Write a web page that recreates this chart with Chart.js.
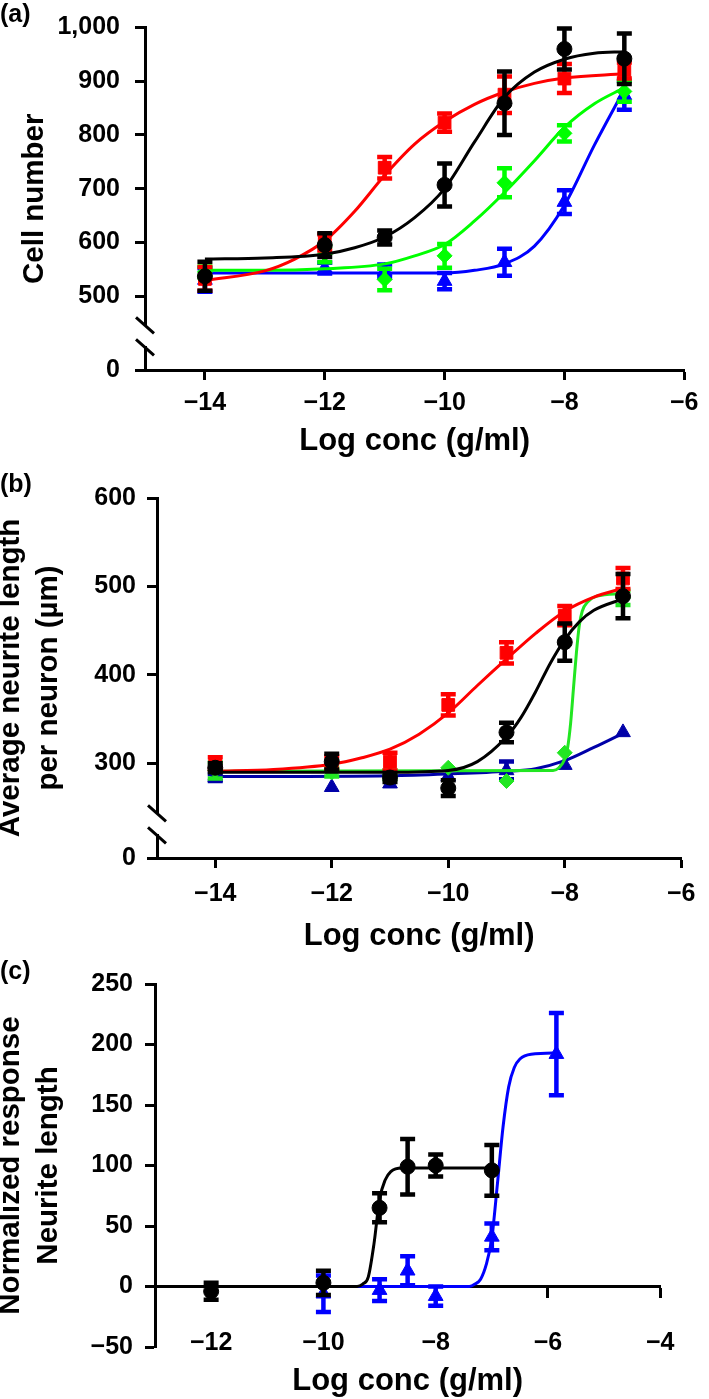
<!DOCTYPE html>
<html>
<head>
<meta charset="utf-8">
<title>Dose response: cell number and neurite length</title>
<script src="https://cdn.jsdelivr.net/npm/chart.js@4.4.1/dist/chart.umd.min.js"></script>
<style>
  body { margin: 0; background: #fff; }
  #wrap { position: relative; width: 709px; height: 1399px; }
  canvas { position: absolute; left: 0; }
  .panel { position: absolute; left: 0; font: bold 25px 'Liberation Sans', Arial, sans-serif; line-height: 1; color: #000; }
</style>
</head>
<body>
<div id="wrap">
  <canvas id="chartA" width="709" height="460" style="top:0"></canvas>
  <canvas id="chartB" width="709" height="500" style="top:460px"></canvas>
  <canvas id="chartC" width="709" height="449" style="top:950px"></canvas>
  <div class="panel" style="top:1px">(a)</div>
  <div class="panel" style="top:471px">(b)</div>
  <div class="panel" style="top:958px">(c)</div>
</div>
<script>
// ---- (a) cell number ----
const concA = [-14, -12, -11, -10, -9, -8, -7];
const cellBlack = [537, 595, 609, 707, 859, 960, 942];
const cellBlackErr = [27, 22, 13, 40, 59, 38, 47];
const cellRed = [532, 600, 739, 823, 875, 905, 920];
const cellRedErr = [22, 15, 20, 17, 34, 27, 15];
const cellGreen = [545, 578, 531, 575, 711, 803, 881];
const cellGreenErr = [10, 15, 20, 22, 27, 15, 19];
const cellBlue = [530, 552, 547, 528, 563, 675, 874];
const cellBlueErr = [22, 10, 12, 15, 25, 22, 27];

// fitted curves
const fitBlackAx = [-14, -13, -12, -11.5, -11, -10.5, -10, -9.5, -9, -8.5, -8, -7.5, -7];
const fitBlackAy = [569, 571, 578, 590, 610, 646, 700, 787, 870, 917, 941, 952, 955];
const fitRedAx = [-14, -13, -12.5, -12, -11.5, -11, -10.5, -10, -9.5, -9, -8.5, -8, -7];
const fitRedAy = [529, 547, 569, 603, 658, 725, 783, 825, 857, 880, 896, 906, 914];
const fitGreenAx = [-14, -13, -12, -11, -10.5, -10, -9.5, -9, -8.5, -8, -7.5, -7];
const fitGreenAy = [548, 548, 551, 560, 575, 596, 640, 693, 752, 814, 858, 888];
const fitBlueAx = [-14, -10, -9.5, -9, -8.5, -8, -7.5, -7];
const fitBlueAy = [543, 543, 548, 560, 593, 669, 781, 885];

const xTicksA = [-14, -12, -10, -8, -6];
const yTicksA = [0, 500, 600, 700, 800, 900, 1000];
const axisFloorA = 362.5;   // where the broken axis shows "0"

// ---- (b) neurite length ----
const concB = [-14, -12, -11, -10, -9, -8, -7];
const neuBlack = [295, 302, 284, 272, 335, 437, 489];
const neuBlackErr = [5, 9, 5, 9, 11, 21, 25];
const neuRed = [300, 300, 302, 366, 425, 467, 509];
const neuRedErr = [7, 8, 10, 12, 12, 11, 12];
const neuGreen = [292, 290, 287, 295, 280, 312, 487];
const neuGreenErr = [9, 5, 5, 0, 0, 0, 8];
const neuBlue = [284, 273, 277, 285, 292, 298, 335];
const neuBlueErr = [4, 0, 0, 0, 10, 0, 0];

const fitBlackBx = [-14, -11, -10, -9.5, -9, -8.75, -8.5, -8.25, -8, -7.75, -7.5, -7];
const fitBlackBy = [290, 290, 292, 302, 330, 352, 381, 413, 440, 460, 473, 486];
const fitRedBx = [-14, -13, -12, -11.5, -11, -10.5, -10, -9.5, -9, -8.5, -8, -7.5, -7];
const fitRedBy = [291, 293, 299, 306, 316, 333, 357, 388, 418, 447, 472, 488, 498];
const fitGreenBx = [-14, -8.2, -8.1, -8, -7.95, -7.9, -7.85, -7.8, -7.75, -7.7, -7.6, -7.45, -7];
const fitGreenBy = [291, 292, 295, 305, 318, 345, 385, 425, 456, 472, 483, 489, 492];
const fitBlueBx = [-14, -11, -10, -9, -8.5, -8, -7.5, -7];
const fitBlueBy = [285, 286, 288, 291, 294, 303, 318, 334];

const xTicksB = [-14, -12, -10, -8, -6];
const yTicksB = [0, 300, 400, 500, 600];
const axisFloorB = 193;

// ---- (c) normalized response ----
const concBlackC = [-12, -10, -9, -8.5, -8, -7];
const normBlack = [-4, 3, 65, 99, 100, 96];
const normBlackErr = [7, 10, 12, 23, 9, 21];
const concBlueC = [-10, -9, -8.5, -8, -7, -5.85];
const normBlue = [-6, -3, 13, -8, 41, 192];
const normBlueErr = [15, 9, 12, 8, 11, 34];

const fitBlackCx = [-13, -9.4, -9.3, -9.2, -9.1, -9, -8.9, -8.8, -8.6, -6.9];
const fitBlackCy = [0, 0, 2, 8, 35, 72, 88, 95, 98, 98];
const fitBlueCx = [-10, -7.4, -7.3, -7.2, -7.1, -7, -6.9, -6.8, -6.7, -6.6, -6.5, -6.3, -5.8];
const fitBlueCy = [0, 0, 2, 6, 18, 40, 85, 132, 165, 181, 188, 192, 193];

const xTicksC = [-12, -10, -8, -6, -4];
const yTicksC = [-50, 0, 50, 100, 150, 200, 250];

Chart.defaults.font.family = "'Liberation Sans', Arial, sans-serif";
Chart.defaults.color = '#000';

const tickFont = { size: 25, weight: 'bold', lineHeight: 1 };
const xTitleFont = { size: 31, weight: 'bold', lineHeight: 1.2 };
const yTitleFont = { size: 29.5, weight: 'bold', lineHeight: 1.276 };

function fmtTick(v) {
  const s = Math.abs(v).toLocaleString('en-US');
  return v < 0 ? '\u2212' + s : s;
}

function points(xs, ys, errs, color, style, r) {
  return {
    data: xs.map((x, i) => ({ x: x, y: ys[i] })),
    errors: errs,
    showLine: false,
    borderColor: color,
    backgroundColor: color,
    pointStyle: style,
    pointRadius: r,
    pointBorderWidth: 1
  };
}

function fitLine(xs, ys, color) {
  return {
    data: xs.map((x, i) => ({ x: x, y: ys[i] })),
    borderColor: color,
    borderWidth: 3,
    pointRadius: 0,
    cubicInterpolationMode: 'monotone',
    fill: false
  };
}

// vertical SEM bars with caps, drawn just under each point set
const errorBars = {
  id: 'errorBars',
  beforeDatasetDraw(chart, args) {
    const ds = chart.data.datasets[args.index];
    if (!ds.errors) return;
    const y = chart.scales.y;
    const ctx = chart.ctx;
    ctx.save();
    ctx.strokeStyle = ds.borderColor;
    ctx.lineWidth = 4.5;
    args.meta.data.forEach((pt, i) => {
      const e = ds.errors[i];
      if (!e) return;
      const v = ds.data[i].y;
      const top = y.getPixelForValue(v + e);
      const bot = y.getPixelForValue(v - e);
      ctx.beginPath();
      ctx.moveTo(pt.x, top); ctx.lineTo(pt.x, bot);
      ctx.moveTo(pt.x - 7.5, top); ctx.lineTo(pt.x + 7.5, top);
      ctx.moveTo(pt.x - 7.5, bot); ctx.lineTo(pt.x + 7.5, bot);
      ctx.stroke();
    });
    ctx.restore();
  }
};

// the // marks on a broken y axis
const axisBreak = {
  id: 'axisBreak',
  afterDraw(chart, args, opts) {
    if (opts.at == null) return;
    const ctx = chart.ctx;
    const x = chart.chartArea.left;
    const y = chart.scales.y.getPixelForValue(opts.at);
    ctx.save();
    ctx.clearRect(x - 3, y - 10, 6, 20);
    ctx.strokeStyle = '#000';
    ctx.lineWidth = 3;
    ctx.beginPath();
    [-11, 11].forEach(d => {
      ctx.moveTo(x - 9, y + d - 8);
      ctx.lineTo(x + 9, y + d + 8);
    });
    ctx.stroke();
    ctx.restore();
  }
};

function drawPanel(id, p) {
  const broken = p.breakAt != null;
  return new Chart(document.getElementById(id), {
    type: 'line',
    data: { datasets: p.datasets },
    options: {
      responsive: false,
      animation: false,
      devicePixelRatio: 1,
      layout: { padding: p.padding },
      plugins: {
        legend: { display: false },
        tooltip: { enabled: false },
        axisBreak: { at: p.breakAt }
      },
      scales: {
        x: {
          type: 'linear',
          position: p.xPosition || 'bottom',
          min: p.xMin,
          max: p.xMax,
          afterBuildTicks: s => { s.ticks = p.xTicks.map(v => ({ value: v })); },
          afterFit: s => { s.height = p.xHeight; },
          ticks: { font: tickFont, color: '#000', padding: p.xTickPad, maxRotation: 0, autoSkip: false, callback: fmtTick },
          grid: { drawOnChartArea: false, tickLength: 10, tickWidth: 3, tickColor: '#000' },
          border: { color: '#000', width: 3 },
          title: { display: true, text: 'Log conc (g/ml)', font: xTitleFont, color: '#000', padding: 0 }
        },
        y: {
          type: 'linear',
          min: p.yFloor,
          max: p.yMax,
          afterBuildTicks: s => {
            s.ticks = p.yTicks.map(v => ({ value: (broken && v === 0) ? p.yFloor : v }));
          },
          afterFit: s => { s.width = p.yWidth; },
          ticks: {
            font: tickFont, color: '#000', padding: p.yTickPad, autoSkip: false,
            callback: v => (broken && v === p.yFloor) ? '0' : fmtTick(v)
          },
          grid: { drawOnChartArea: false, tickLength: 10, tickWidth: 3, tickColor: '#000' },
          border: { color: '#000', width: 3 },
          title: { display: true, text: p.yTitle, font: yTitleFont, color: '#000', padding: { top: p.yTitlePad, bottom: 0 } }
        }
      }
    },
    plugins: [errorBars, axisBreak]
  });
}

drawPanel('chartA', {
  datasets: [
    points(concA, cellBlack, cellBlackErr, '#000000', 'circle', 7.5),
    fitLine(fitBlackAx, fitBlackAy, '#000000'),
    points(concA, cellRed, cellRedErr, '#ff0000', 'rect', 9),
    fitLine(fitRedAx, fitRedAy, '#ff0000'),
    points(concA, cellGreen, cellGreenErr, '#00ff00', 'rectRot', 7.5),
    fitLine(fitGreenAx, fitGreenAy, '#00ff00'),
    points(concA, cellBlue, cellBlueErr, '#0000ff', 'triangle', 8.5),
    fitLine(fitBlueAx, fitBlueAy, '#0000ff')
  ],
  padding: { left: 0, top: 12, right: 19, bottom: 0 },
  xMin: -15, xMax: -6, xTicks: xTicksA, xHeight: 90, xTickPad: 10.5,
  yFloor: axisFloorA, yMax: 1000, yTicks: yTicksA, yWidth: 145, yTickPad: 15,
  yTitle: 'Cell number', yTitlePad: 16.5,
  breakAt: 425
});

drawPanel('chartB', {
  datasets: [
    points(concB, neuBlack, neuBlackErr, '#000000', 'circle', 7.5),
    fitLine(fitBlackBx, fitBlackBy, '#000000'),
    points(concB, neuRed, neuRedErr, '#ff0000', 'rect', 9),
    fitLine(fitRedBx, fitRedBy, '#ff0000'),
    points(concB, neuGreen, neuGreenErr, '#22e622', 'rectRot', 7.5),
    fitLine(fitGreenBx, fitGreenBy, '#22e622'),
    points(concB, neuBlue, neuBlueErr, '#0000a8', 'triangle', 8.5),
    fitLine(fitBlueBx, fitBlueBy, '#0000a8')
  ],
  padding: { left: 0, top: 38, right: 12, bottom: 5 },
  xMin: -15, xMax: -6, xTicks: xTicksB, xHeight: 97, xTickPad: 13.5,
  yFloor: axisFloorB, yMax: 600, yTicks: yTicksB, yWidth: 157, yTickPad: 11,
  yTitle: ['Average neurite length', 'per neuron (\u00b5m)'], yTitlePad: -7.5,
  breakAt: 231
});

drawPanel('chartC', {
  datasets: [
    points(concBlackC, normBlack, normBlackErr, '#000000', 'circle', 7.5),
    fitLine(fitBlackCx, fitBlackCy, '#000000'),
    points(concBlueC, normBlue, normBlueErr, '#0000ff', 'triangle', 8.5),
    fitLine(fitBlueCx, fitBlueCy, '#0000ff')
  ],
  padding: { left: 0, top: 34, right: 12, bottom: 52 },
  xPosition: { y: 0 },
  xMin: -13, xMax: -4, xTicks: xTicksC, xHeight: 114, xTickPad: 34.5,
  yFloor: -50, yMax: 250, yTicks: yTicksC, yWidth: 155, yTickPad: 12,
  yTitle: ['Normalized response', 'Neurite length'], yTitlePad: -7.5,
  breakAt: null
});
</script>
</body>
</html>
